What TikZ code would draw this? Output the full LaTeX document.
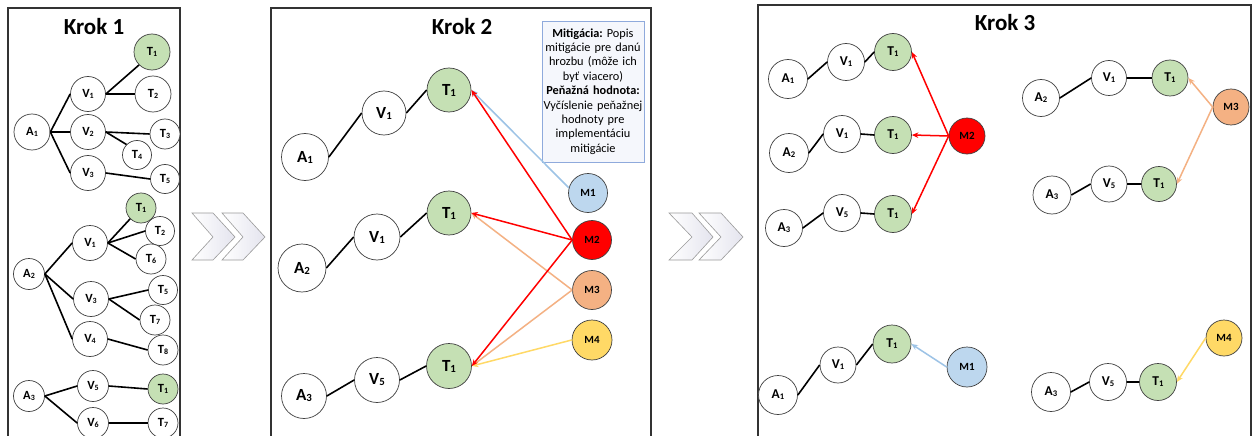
\documentclass[tikz,border=0pt]{standalone}
\usepackage{fontspec}
\setmainfont{Carlito}
\usepackage{graphicx}
\usetikzlibrary{arrows.meta}
\frenchspacing
\definecolor{tgreen}{HTML}{C5E0B4}
\definecolor{mblue}{HTML}{BDD7EE}
\definecolor{ablue}{HTML}{9DC3E6}
\definecolor{mred}{HTML}{FF0000}
\definecolor{morange}{HTML}{F4B183}
\definecolor{myellow}{HTML}{FFD966}
\definecolor{ndgray}{HTML}{404040}
\definecolor{panelgray}{HTML}{333333}
\definecolor{boxborder}{HTML}{8FAADC}
\definecolor{boxfill}{HTML}{F5F7FC}
\definecolor{chevdraw}{HTML}{9A9A9A}
\definecolor{chevfill}{HTML}{E4E4EE}
\newcommand\lb[2]{#1\raisebox{-0.12ex}{\scalebox{0.64}{#2}}}
\tikzset{
  nd/.style={circle, draw=ndgray, line width=0.7pt, fill=white, inner sep=0pt, minimum size=#1},
  gn/.style={nd=#1, fill=tgreen},
  fA/.style={font=\fontsize{12.5}{14}\selectfont\bfseries},
  fB/.style={font=\fontsize{17}{19}\selectfont\bfseries},
  fC/.style={font=\fontsize{13.5}{15}\selectfont\bfseries},
  fM/.style={font=\fontsize{11}{12}\selectfont\bfseries},
  edge/.style={draw=black, line width=1.6pt},
  arr/.style={-{Stealth[length=6.5pt,width=5.5pt]}, line width=1.5pt},
  panel/.style={draw=panelgray, line width=2pt},
  title/.style={font=\fontsize{23}{25}\selectfont\bfseries},
  chev/.style={draw=chevdraw, line width=0.6pt, left color=white, right color=chevfill},
}
\begin{document}
\begin{tikzpicture}[x=1pt,y=-1pt]
\useasboundingbox (0,0) rectangle (1259,436);
\clip (0,0) rectangle (1259,436);
\fill[white] (0,0) rectangle (1259,436);
% panels
\draw[panel] (8,8) rectangle (180,460);
\draw[panel] (271,8) rectangle (651,460);
\draw[panel] (758,5) rectangle (1251,460);
\node[title] (t1) at (94,27) {Krok 1};
\node[title] (t2) at (462,27) {Krok 2};
\node[title] (t3) at (1005,23) {Krok 3};
% chevrons
\shade[chev] (192,213) -- (213,213) -- (235,237) -- (213,260) -- (192,260) -- (213,237) -- cycle;
\shade[chev] (222,213) -- (243,213) -- (265,237) -- (243,260) -- (222,260) -- (243,237) -- cycle;
\shade[chev] (669,213) -- (692,213) -- (713,237) -- (692,260) -- (669,260) -- (692,237) -- cycle;
\shade[chev] (699,213) -- (721,213) -- (743,237) -- (721,260) -- (699,260) -- (721,237) -- cycle;

% ---------- Krok 1 ----------
\begin{scope}[every node/.append style={fA}]
\node[nd=36pt] (k1A1) at (32,132) {\lb{A}{1}};
\node[nd=35pt] (k1V1) at (88,94) {\lb{V}{1}};
\node[nd=35pt] (k1V2) at (88,132) {\lb{V}{2}};
\node[nd=35pt] (k1V3) at (88,173) {\lb{V}{3}};
\node[gn=36pt] (k1T1) at (152,52) {\lb{T}{1}};
\node[nd=36pt] (k1T2) at (153,94) {\lb{T}{2}};
\node[nd=30pt] (k1T3) at (165,134) {\lb{T}{3}};
\node[nd=29pt] (k1T4) at (137,155) {\lb{T}{4}};
\node[nd=29pt] (k1T5) at (165,179) {\lb{T}{5}};
\node[nd=31pt] (k1A2) at (29,274) {\lb{A}{2}};
\node[nd=35pt] (k1V1b) at (90,243) {\lb{V}{1}};
\node[nd=29pt] (k1T2b) at (160,231) {\lb{T}{2}};
\node[gn=30pt] (k1T1b) at (141,208) {\lb{T}{1}};
\node[nd=30pt] (k1T6) at (151,259) {\lb{T}{6}};
\node[nd=35pt] (k1V3b) at (91,299) {\lb{V}{3}};
\node[nd=29pt] (k1T5b) at (163,290) {\lb{T}{5}};
\node[nd=30pt] (k1T7) at (155,320) {\lb{T}{7}};
\node[nd=35pt] (k1V4) at (90,339) {\lb{V}{4}};
\node[nd=30pt] (k1T8) at (163,350) {\lb{T}{8}};
\node[nd=31pt] (k1A3) at (29,396) {\lb{A}{3}};
\node[nd=31pt] (k1V5) at (93,386) {\lb{V}{5}};
\node[gn=30pt] (k1T1c) at (163,389) {\lb{T}{1}};
\node[nd=31pt] (k1V6) at (93,423) {\lb{V}{6}};
\node[nd=30pt] (k1T7b) at (163,423) {\lb{T}{7}};
\end{scope}
\draw[edge] (k1A1.east) -- (k1V1.west);
\draw[edge] (k1A1.east) -- (k1V2.west);
\draw[edge] (k1A1.east) -- (k1V3.west);
\draw[edge] (k1V1.east) -- (k1T1.south west);
\draw[edge] (k1V1.east) -- (k1T2.west);
\draw[edge] (k1V2.east) -- (k1T3.west);
\draw[edge] (k1V2.east) -- (k1T4.north west);
\draw[edge] (k1V3.east) -- (k1T5.west);
\draw[edge] (k1A2.east) -- (k1V1b.west);
\draw[edge] (k1A2.east) -- (k1V3b.west);
\draw[edge] (k1A2.east) -- (k1V4.west);
\draw[edge] (k1V1b.east) -- (k1T1b.south west);
\draw[edge] (k1V1b.east) -- (k1T2b.west);
\draw[edge] (k1V1b.east) -- (k1T6.west);
\draw[edge] (k1V3b.east) -- (k1T5b.west);
\draw[edge] (k1V3b.east) -- (k1T7.west);
\draw[edge] (k1V4.east) -- (k1T8.west);
\draw[edge] (k1A3.east) -- (k1V5.west);
\draw[edge] (k1A3.east) -- (k1V6.west);
\draw[edge] (k1V5.east) -- (k1T1c.west);
\draw[edge] (k1V6.east) -- (k1T7b.west);

% ---------- Krok 2 ----------
\begin{scope}[every node/.append style={fB}]
\node[nd=47pt] (k2A1) at (305,157) {\lb{A}{1}};
\node[nd=44pt] (k2V1) at (384,113) {\lb{V}{1}};
\node[gn=44pt] (k2T1a) at (449,90) {\lb{T}{1}};
\node[nd=48pt] (k2A2) at (302,268) {\lb{A}{2}};
\node[nd=46pt] (k2V1b) at (377,237) {\lb{V}{1}};
\node[gn=44pt] (k2T1b) at (449,213) {\lb{T}{1}};
\node[nd=45pt] (k2A3) at (304,396) {\lb{A}{3}};
\node[nd=45pt] (k2V5) at (377,380) {\lb{V}{5}};
\node[gn=45pt] (k2T1c) at (449,366) {\lb{T}{1}};
\end{scope}
\begin{scope}[every node/.append style={fM}]
\node[nd=39pt, fill=mblue] (k2M1) at (588,193) {M1};
\node[nd=39pt, fill=mred] (k2M2) at (592,240) {M2};
\node[nd=39pt, fill=morange] (k2M3) at (592,290) {M3};
\node[nd=40pt, fill=myellow] (k2M4) at (592,340) {M4};
\end{scope}
\node[draw=boxborder, fill=boxfill, line width=0.8pt, minimum width=102pt, minimum height=141pt, inner sep=0pt, text width=100pt, align=center, font=\fontsize{12.3}{14.4}\selectfont] (box) at (593,91.5)
 {\textbf{Mitigácia:} Popis\\ mitigácie pre danú\\ hrozbu (môže ich\\ byť viacero)\\ \textbf{Peňažná hodnota:}\\ Vyčíslenie peňažnej\\ hodnoty pre\\ implementáciu\\ mitigácie};
\draw[edge] (k2A1.east) -- (k2V1.west);
\draw[edge] (k2V1.east) -- (k2T1a.west);
\draw[edge] (k2A2.east) -- (k2V1b.west);
\draw[edge] (k2V1b.east) -- (k2T1b.west);
\draw[edge] (k2A3.east) -- (k2V5.west);
\draw[edge] (k2V5.east) -- (k2T1c.west);
\draw[arr, ablue] (k2M1.165) -- (k2T1a.east);
\draw[arr, morange] (k2M3.west) -- (k2T1b.east);
\draw[arr, morange] (k2M3.west) -- (k2T1c.east);
\draw[arr, myellow] (k2M4.west) -- (k2T1c.east);
\draw[arr, mred] (k2M2.west) -- (k2T1a.east);
\draw[arr, mred] (k2M2.west) -- (k2T1b.east);
\draw[arr, mred] (k2M2.west) -- (k2T1c.east);

% ---------- Krok 3 ----------
\begin{scope}[every node/.append style={fC}]
\node[nd=39pt] (k3A1) at (788,79) {\lb{A}{1}};
\node[nd=37pt] (k3V1) at (846,62) {\lb{V}{1}};
\node[gn=37pt] (k3T1a) at (893,52) {\lb{T}{1}};
\node[nd=39pt] (k3A2) at (789,153) {\lb{A}{2}};
\node[nd=37pt] (k3V1b) at (842,134) {\lb{V}{1}};
\node[gn=37pt] (k3T1b) at (893,135) {\lb{T}{1}};
\node[nd=37pt] (k3A3) at (784,228) {\lb{A}{3}};
\node[nd=37pt] (k3V5) at (842,213) {\lb{V}{5}};
\node[gn=37pt] (k3T1c) at (893,214) {\lb{T}{1}};
\node[nd=37pt] (k3A2b) at (1041,98) {\lb{A}{2}};
\node[nd=35pt] (k3V1c) at (1109,78) {\lb{V}{1}};
\node[gn=36pt] (k3T1d) at (1170,78) {\lb{T}{1}};
\node[nd=38pt] (k3A3b) at (1052,195) {\lb{A}{3}};
\node[nd=36pt] (k3V5b) at (1109,184) {\lb{V}{5}};
\node[gn=35pt] (k3T1e) at (1159,184) {\lb{T}{1}};
\node[nd=39pt] (k3A1b) at (778,395) {\lb{A}{1}};
\node[nd=36pt] (k3V1d) at (838,365) {\lb{V}{1}};
\node[gn=38pt] (k3T1f) at (892,344) {\lb{T}{1}};
\node[nd=39pt] (k3A3c) at (1051,392) {\lb{A}{3}};
\node[nd=37pt] (k3V5c) at (1108,382) {\lb{V}{5}};
\node[gn=37pt] (k3T1g) at (1158,382) {\lb{T}{1}};
\end{scope}
\begin{scope}[every node/.append style={fM}]
\node[nd=36pt, fill=mred] (k3M2) at (967,136) {M2};
\node[nd=36pt, fill=morange] (k3M3) at (1231,107) {M3};
\node[nd=40pt, fill=mblue] (k3M1) at (967,367) {M1};
\node[nd=36pt, fill=myellow] (k3M4) at (1224,338) {M4};
\end{scope}
\draw[edge] (k3A1.east) -- (k3V1.west);
\draw[edge] (k3V1.east) -- (k3T1a.west);
\draw[edge] (k3A2.east) -- (k3V1b.west);
\draw[edge] (k3V1b.east) -- (k3T1b.west);
\draw[edge] (k3A3.east) -- (k3V5.west);
\draw[edge] (k3V5.east) -- (k3T1c.west);
\draw[edge] (k3A2b.east) -- (k3V1c.west);
\draw[edge] (k3V1c.east) -- (k3T1d.west);
\draw[edge] (k3A3b.east) -- (k3V5b.west);
\draw[edge] (k3V5b.east) -- (k3T1e.west);
\draw[edge] (k3A1b.east) -- (k3V1d.west);
\draw[edge] (k3V1d.east) -- (k3T1f.west);
\draw[edge] (k3A3c.east) -- (k3V5c.west);
\draw[edge] (k3V5c.east) -- (k3T1g.west);
\draw[arr, mred] (k3M2.west) -- (k3T1a.east);
\draw[arr, mred] (k3M2.west) -- (k3T1b.east);
\draw[arr, mred] (k3M2.west) -- (k3T1c.east);
\draw[arr, morange] (k3M3.west) -- (k3T1d.east);
\draw[arr, morange] (k3M3.west) -- (k3T1e.east);
\draw[arr, ablue] (k3M1.west) -- (k3T1f.east);
\draw[arr, myellow] (k3M4.west) -- (k3T1g.east);
\end{tikzpicture}
\end{document}
